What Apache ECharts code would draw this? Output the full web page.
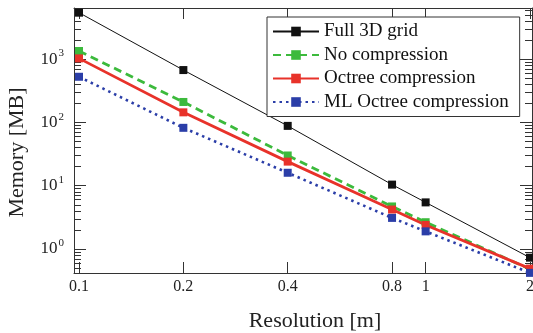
<!DOCTYPE html>
<html>
<head>
<meta charset="utf-8">
<script src="https://cdn.jsdelivr.net/npm/echarts@6/dist/echarts.min.js"></script>
<style>html,body{margin:0;padding:0;background:#fff}#c{width:533px;height:333px}</style>
</head>
<body>
<div id="c"></div>
<script>
var resolutions = [0.1, 0.2, 0.4, 0.8, 1, 2];
var fullGrid = [5400, 670, 88, 10.4, 5.45, 0.73];
var noCompression = [1340, 210, 30, 4.7, 2.65, 0.48];
var octreeCompression = [1025, 144, 24, 4.2, 2.4, 0.49];
var mlOctreeCompression = [525, 82, 16, 3.1, 1.9, 0.42];
var xTickValues = [0.1, 0.2, 0.4, 0.8, 1, 2];
var yMajorTicks = [1, 10, 100, 1000];
var yMinorTicks = [0.5, 0.6, 0.7, 0.8, 0.9, 2, 3, 4, 5, 6, 7, 8, 9, 20, 30, 40, 50, 60, 70, 80, 90, 200, 300, 400, 500, 600, 700, 800, 900, 2000, 3000, 4000, 5000, 6000];

var FONT = 'Liberation Serif';
var X_MIN = 0.09672, X_MAX = 2.027, Y_MIN = 0.418, Y_MAX = 6400;
var AXC = '#333';

function pairs(vals) { return resolutions.map(function (r, i) { return [r, vals[i]]; }); }

function yAxisDef(pos, ticks, len, showLine, labels, name) {
  var a = {
    type: 'log', logBase: 10, position: pos, min: Y_MIN, max: Y_MAX,
    axisLine: { show: showLine, lineStyle: { color: AXC, width: 1 } },
    axisTick: { show: true, inside: true, length: len, customValues: ticks, lineStyle: { color: AXC, width: 1 } },
    axisLabel: { show: false },
    splitLine: { show: false },
    minorTick: { show: false }
  };
  if (labels) {
    a.axisLabel = {
      show: true, margin: 10, customValues: yMajorTicks,
      formatter: function (v) { return '{b|10}{s|' + Math.round(Math.log10(v)) + '}'; },
      rich: {
        b: { fontFamily: FONT, fontSize: 17, color: '#222', lineHeight: 22 },
        s: { fontFamily: FONT, fontSize: 11, color: '#222', verticalAlign: 'top', lineHeight: 12, padding: [0, 0, 0, 1] }
      }
    };
  }
  if (name) {
    a.name = name;
    a.nameLocation = 'middle';
    a.nameGap = 46;
    a.nameTextStyle = { fontFamily: FONT, fontSize: 22, color: '#222', padding: [0, 24, 0, 0] };
  }
  return a;
}

function xAxisDef(pos, labels, name) {
  var a = {
    type: 'log', logBase: 10, position: pos, min: X_MIN, max: X_MAX,
    axisLine: { show: true, onZero: false, lineStyle: { color: AXC, width: 1 } },
    axisTick: { show: true, inside: true, length: 11, customValues: xTickValues, lineStyle: { color: AXC, width: 1 } },
    axisLabel: { show: false },
    splitLine: { show: false },
    minorTick: { show: false }
  };
  if (labels) {
    a.axisLabel = {
      show: true, margin: 6, customValues: xTickValues,
      fontFamily: FONT, fontSize: 16, color: '#222',
      formatter: function (v) { return String(parseFloat(v.toPrecision(6))); }
    };
  }
  if (name) {
    a.name = name;
    a.nameLocation = 'middle';
    a.nameGap = 37;
    a.nameTextStyle = { fontFamily: FONT, fontSize: 22, color: '#222', padding: [0, 0, 0, 24] };
  }
  return a;
}

var chart = echarts.init(document.getElementById('c'), null, { renderer: 'canvas' });
chart.setOption({
  animation: false,
  backgroundColor: '#fff',
  grid: { left: 74, right: 1, top: 8, bottom: 60, containLabel: false, outerBoundsMode: 'none' },
  xAxis: [xAxisDef('bottom', true, 'Resolution [m]'), xAxisDef('top', false, null)],
  yAxis: [
    yAxisDef('left', yMajorTicks, 12, true, true, 'Memory [MB]'),
    yAxisDef('left', yMinorTicks, 7, false, false, null),
    yAxisDef('right', yMajorTicks, 12, true, false, null),
    yAxisDef('right', yMinorTicks, 7, false, false, null)
  ],
  legend: {
    orient: 'vertical', left: 267, top: 17,
    padding: [5, 11, 5, 5], itemGap: 4.5, itemWidth: 46, itemHeight: 12,
    backgroundColor: '#fff', borderColor: '#333', borderWidth: 1, borderRadius: 0,
    textStyle: { fontFamily: FONT, fontSize: 19, lineHeight: 18, color: '#111' },
    data: ['Full 3D grid', 'No compression', 'Octree compression', 'ML Octree compression']
  },
  series: [
    { name: 'Full 3D grid', type: 'line', data: pairs(fullGrid), symbol: 'rect', symbolSize: 8,
      itemStyle: { color: '#111' }, lineStyle: { color: '#111', width: 1 } },
    { name: 'No compression', type: 'line', data: pairs(noCompression), symbol: 'rect', symbolSize: 8,
      itemStyle: { color: '#3cba3c' }, lineStyle: { color: '#3cba3c', width: 2.8, type: [8, 5] } },
    { name: 'Octree compression', type: 'line', data: pairs(octreeCompression), symbol: 'rect', symbolSize: 8,
      itemStyle: { color: '#e8322a' }, lineStyle: { color: '#e8322a', width: 2.8 } },
    { name: 'ML Octree compression', type: 'line', data: pairs(mlOctreeCompression), symbol: 'rect', symbolSize: 8,
      itemStyle: { color: '#2b3ea8' }, lineStyle: { color: '#2b3ea8', width: 2.6, type: [2.5, 4] } }
  ]
});
</script>
</body>
</html>
